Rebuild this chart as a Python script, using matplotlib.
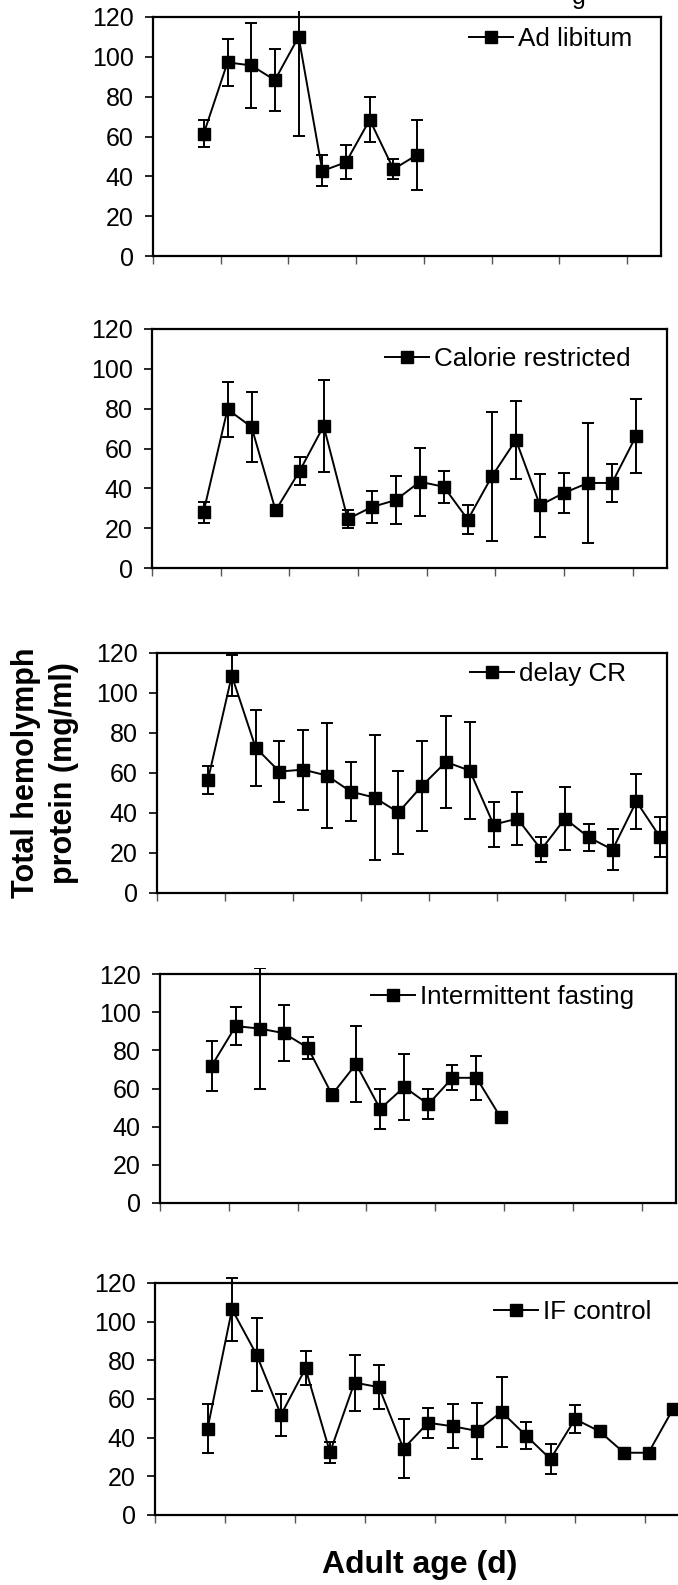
import matplotlib.pyplot as plt
from matplotlib.patches import Rectangle

plt.rcParams["font.family"] = ["Liberation Sans", "DejaVu Sans"]

# Adult age (days) of each sampling point
days = [15 + 7 * k for k in range(20)]

# Mean total hemolymph protein (mg/ml) and error for each diet
names = ["Ad libitum", "Calorie restricted", "delay CR",
         "Intermittent fasting", "IF control"]

adlib_mean = [61.5, 97.2, 95.7, 88.3, 110.1, 42.7, 47.1, 68.4, 43.6, 50.8]
adlib_err = [6.8, 11.8, 21.3, 15.7, 50.0, 7.8, 8.4, 11.3, 4.9, 17.6]

cr_mean = [28.0, 79.7, 70.8, 28.9, 48.7, 71.3, 24.6, 30.6, 34.1, 43.3,
           40.8, 24.3, 46.0, 64.3, 31.5, 37.7, 42.7, 42.7, 66.3]
cr_err = [5.3, 13.7, 17.6, 1.5, 7.1, 22.9, 4.3, 8.2, 12.1, 17.1,
          8.0, 7.4, 32.2, 19.4, 15.7, 9.9, 30.3, 9.5, 18.6]

dcr_mean = [56.7, 108.7, 72.7, 60.7, 61.7, 58.7, 50.7, 47.7, 40.3, 53.7,
            65.5, 61.2, 34.2, 37.2, 21.7, 37.2, 27.8, 21.7, 45.8, 27.8]
dcr_err = [7.0, 10.4, 19.0, 15.2, 20.0, 26.3, 14.6, 31.1, 20.9, 22.5,
           23.0, 24.3, 11.2, 13.2, 6.1, 15.6, 6.6, 10.4, 13.9, 10.0]

if_mean = [71.8, 92.7, 91.4, 89.0, 81.3, 56.8, 72.8, 49.3, 60.8, 51.7,
           65.6, 65.6, 44.9]
if_err = [13.1, 9.9, 31.7, 14.5, 5.8, 3.0, 20.1, 10.6, 17.2, 7.8,
          6.6, 11.6, 0.0]

ifc_mean = [44.6, 106.4, 83.0, 51.8, 75.8, 32.4, 68.5, 66.1, 34.3, 47.7,
            45.9, 43.5, 53.4, 41.1, 28.9, 49.6, 43.3, 32.2, 32.2, 54.8]
ifc_err = [12.6, 16.3, 19.1, 10.7, 8.8, 5.3, 14.5, 11.4, 15.4, 7.8,
           11.4, 14.4, 18.2, 7.1, 7.6, 7.4, 0.0, 0.0, 0.0, 0.0]

means = [adlib_mean, cr_mean, dcr_mean, if_mean, ifc_mean]
errs = [adlib_err, cr_err, dcr_err, if_err, ifc_err]

# panel boxes in pixels: left, right, top, bottom
W, H = 678, 1585
boxes = [(153, 661, 17, 256), (152, 667, 329, 568), (157, 667, 653, 893),
         (160, 676, 974, 1203), (155, 680, 1283, 1515)]
# legend handle start (axes fraction) and height (data units)
leg_pos = [(0.622, 109.0), (0.452, 105.1), (0.614, 109.5),
           (0.409, 108.0), (0.645, 104.8)]

fig = plt.figure(figsize=(W / 100, H / 100), dpi=100)

for i in range(5):
    l, r, t, b = boxes[i]
    ax = fig.add_axes([l / W, 1 - b / H, (r - l) / W, (b - t) / H])
    n = len(means[i])
    x = days[:n]

    eb = ax.errorbar(x, means[i], yerr=errs[i], fmt="none", ecolor="black",
                     elinewidth=1.4, capsize=4, capthick=1.4, zorder=2)
    # error bars may run a little past the top of the frame
    clip = Rectangle((0, -0.05), 1, 1.075, transform=ax.transAxes)
    for art in list(eb[1]) + list(eb[2]):
        art.set_clip_path(clip)

    ax.plot(x, means[i], color="black", lw=1.4, marker="s", ms=8.5,
            mfc="black", mec="black", label=names[i], zorder=3)

    ax.set_xlim(0, 150)
    ax.set_ylim(0, 120)
    ax.set_xticks(range(0, 141, 20))
    ax.set_xticklabels([])
    ax.set_yticks(range(0, 121, 20))
    ax.tick_params(axis="y", direction="out", length=6, width=1.2,
                   labelsize=18, pad=8)
    ax.tick_params(axis="x", direction="out", length=6, width=1.0,
                   color="#555555")
    for sp in ax.spines.values():
        sp.set_linewidth(1.6)

    hx, hy = leg_pos[i]
    ax.legend(loc="center left", bbox_to_anchor=(hx, hy),
              bbox_transform=ax.get_yaxis_transform(), frameon=False,
              fontsize=18.7, borderpad=0, borderaxespad=0,
              handlelength=1.7, handletextpad=0.2)

fig.text(45 / W, 1 - 773 / H, "Total hemolymph\nprotein (mg/ml)",
         rotation=90, ha="center", va="center", fontsize=22,
         fontweight="bold", linespacing=1.35, multialignment="center")
fig.text(420 / W, 1 - 1565 / H, "Adult age (d)", ha="center", va="center",
         fontsize=23, fontweight="bold")
# cut-off letter at the top edge of the scan
fig.text(579 / W, 1 - 4 / H, "g", ha="center", va="baseline", fontsize=18)

fig.savefig("out.png", dpi=100)
